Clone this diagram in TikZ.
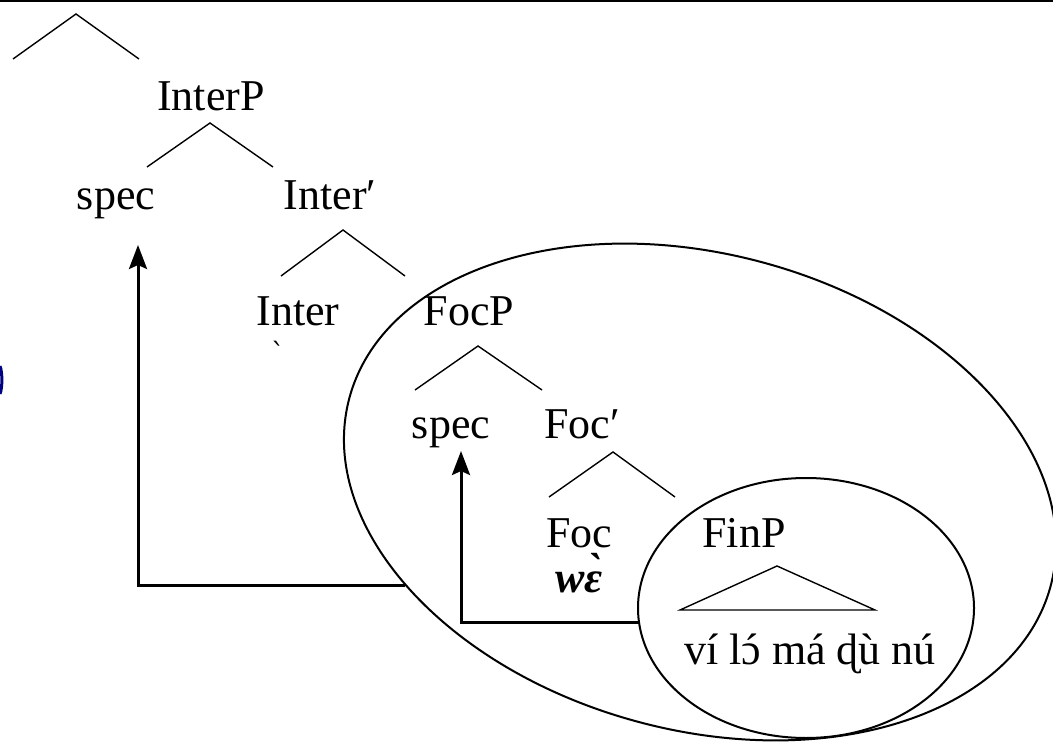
\documentclass[tikz,border=0pt]{standalone}
\usepackage{fontspec}
\setmainfont{Liberation Serif}
\newfontfamily\ipafont{DejaVu Serif}
\usetikzlibrary{arrows.meta,shapes.geometric}

\begin{document}
\begin{tikzpicture}[x=0.5pt, y=-0.5pt,
  label/.style={font=\fontsize{22}{26}\selectfont, inner sep=0pt, anchor=base},
  branch/.style={line width=0.7pt},
  ring/.style={draw, ellipse, line width=1pt, inner sep=0pt},
  move/.style={line width=1.5pt, -{Stealth[length=12pt,width=9pt,inset=2pt]}}]
\useasboundingbox (0,0) rectangle (1053,742);
\draw[line width=1.5pt] (0,1) -- (1053,1);
\draw[blue!50!black, line width=1.5pt] (0,366) .. controls (2.5,372) and (2.5,388) .. (0,394);

% upper part of the tree
\draw[branch] (13,59) -- (76,14) -- (139,59);
\node[label] (interp) at (211,111) {InterP};
\node[label] (spec1) at (116,210) {spec};
\node[label] (interbar) at (330,210) {Inter′};
\node[label] (inter) at (298,326) {Inter};
\node[font=\ipafont\fontsize{14}{14}\selectfont, inner sep=0pt] (tone) at (278,352) {ˋ};
\draw[branch] ([shift={(-1,12)}]interp.base) +(-63,44) -- ([shift={(-1,12)}]interp.base) -- +(63,44);
\draw[branch] ([shift={(13,20)}]interbar.base) +(-62,46) -- ([shift={(13,20)}]interbar.base) -- +(62,46);

% focus phrase
\node[label] (focp) at (469,326) {FocP};
\node[label] (spec2) at (451,438) {spec};
\node[label] (focbar) at (582,438) {Foc′};
\node[label] (foc) at (579,547) {Foc};
\node[label] (we) at (579,592) {\textbf{\textit{wɛ̀}}};
\draw[branch] ([shift={(9,20)}]focp.base) +(-63,44) -- ([shift={(9,20)}]focp.base) -- +(64,44);
\draw[branch] ([shift={(31,14)}]focbar.base) +(-64,45) -- ([shift={(31,14)}]focbar.base) -- +(62,45);

% finite phrase
\node[label] (finp) at (744,547) {FinP};
\node[label] (words) at (810,664) {ví l\accent"B4 ɔ\ má ɖù nú};
\draw[branch] ([shift={(33,19)}]finp.base) +(-97,44) -- ([shift={(33,19)}]finp.base) -- +(98,44) -- cycle;

% rings and movement
\node[ring, minimum width=363pt, minimum height=238pt, rotate=-15] (focring) at (700,492) {};
\node[ring, minimum width=168pt, minimum height=130pt] (finring) at (806,608) {};
\coordinate (focedge) at (405,585);
\coordinate (finedge) at (639,622);
\draw[move] (focedge) -| ([shift={(22,35)}]spec1.base);
\draw[move] (finedge) -| ([shift={(10,13)}]spec2.base);
\end{tikzpicture}
\end{document}
